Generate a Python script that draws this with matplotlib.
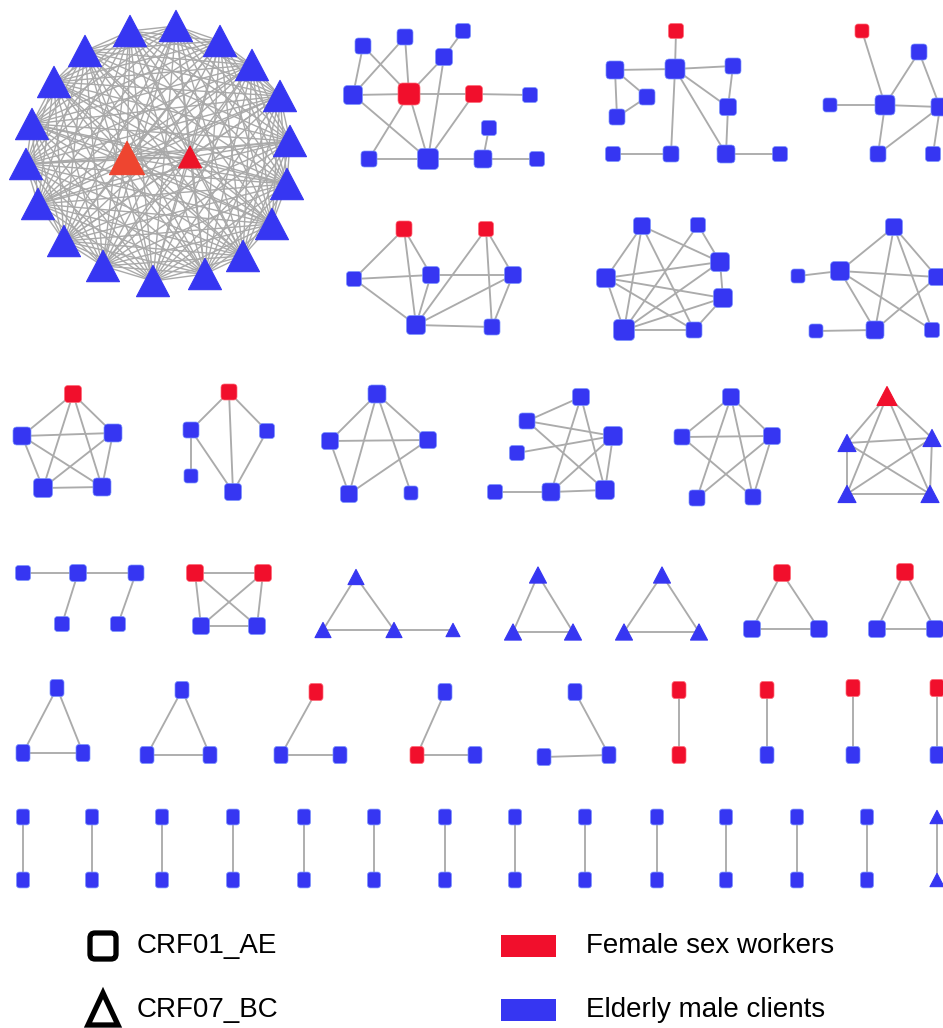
import numpy as np
import matplotlib
matplotlib.use('Agg')
import matplotlib.pyplot as plt
from matplotlib.patches import FancyBboxPatch, Polygon, Rectangle
from matplotlib.collections import LineCollection
from itertools import combinations

# ------------------------------------------------------------------
# DATA: transmission clusters
#   subtype: 'AE' = CRF01_AE (square), 'BC' = CRF07_BC (triangle)
#   roles  : F = female sex worker, M = elderly male client
#   edges  : pairs of node indices, or 'all' for a fully linked cluster
# ------------------------------------------------------------------
cluster_subtype = (['BC', 'AE', 'AE', 'AE', 'AE', 'AE', 'AE',
                    'AE', 'AE', 'AE', 'AE', 'AE', 'BC',
                    'AE', 'AE', 'BC', 'BC', 'BC', 'AE', 'AE',
                    'AE', 'AE', 'AE', 'AE', 'AE', 'AE', 'AE', 'AE', 'AE']
                   + ['AE'] * 13 + ['BC'])

cluster_roles = (['MMMMMMMMMMMMMMMMMMFF', 'MMMMMFFMMMMMM', 'FMMMMMMMMMM', 'FMMMMMM',
                  'FFMMMMM', 'MMMMMMM', 'MMMMMMM',
                  'FMMMM', 'FMMMM', 'MMMMM', 'MMMMMMM', 'MMMMM', 'FMMMM',
                  'MMMMM', 'FFMM', 'MMMM', 'MMM', 'MMM', 'FMM', 'FMM',
                  'MMM', 'MMM', 'FMM', 'MFM', 'MMM', 'FF', 'FM', 'FM', 'FM']
                 + ['MM'] * 13 + ['MM'])

cluster_edges = ([
    'all',
    [(0, 4), (0, 5), (1, 4), (1, 5), (2, 3), (3, 5), (3, 10), (4, 5), (4, 10),
     (5, 6), (5, 9), (5, 10), (6, 7), (6, 10), (9, 10), (10, 11), (8, 11), (11, 12)],
    [(0, 2), (1, 2), (2, 3), (1, 4), (1, 5), (4, 5), (2, 6), (2, 8), (2, 9),
     (3, 6), (6, 9), (7, 8), (9, 10)],
    [(0, 3), (2, 3), (3, 1), (1, 4), (3, 4), (3, 5), (5, 4), (4, 6)],
    [(0, 2), (0, 3), (0, 5), (1, 5), (1, 6), (1, 4), (2, 3), (3, 4), (2, 5),
     (3, 5), (5, 4), (5, 6), (6, 4)],
    [(0, 3), (0, 5), (0, 2), (0, 6), (1, 2), (1, 5), (3, 2), (3, 4), (3, 6),
     (3, 5), (5, 2), (5, 4), (5, 6), (2, 4), (4, 6)],
    [(1, 2), (2, 0), (2, 3), (2, 5), (2, 6), (0, 5), (0, 6), (0, 3), (4, 5), (5, 3)],
    'all',
    [(0, 1), (0, 4), (0, 2), (1, 3), (1, 4), (2, 4)],
    [(0, 1), (0, 2), (0, 3), (0, 4), (1, 2), (1, 3), (3, 2)],
    [(0, 1), (0, 5), (0, 6), (1, 2), (1, 6), (3, 2), (2, 5), (2, 6), (5, 6), (4, 5)],
    [(0, 1), (0, 2), (0, 3), (0, 4), (1, 2), (1, 4), (2, 3), (2, 4)],
    'all',
    [(0, 1), (1, 2), (1, 3), (2, 4)],
    'all',
    [(0, 1), (0, 2), (1, 2), (2, 3)],
    'all', 'all', 'all', 'all',
    'all', 'all',
    [(0, 1), (1, 2)],
    [(0, 1), (1, 2)],
    [(0, 2), (1, 2)],
    'all', 'all', 'all', 'all'] + ['all'] * 13 + ['all'])

# ------------------------------------------------------------------
# LAYOUT (pixel positions of nodes, node widths)
# ------------------------------------------------------------------
pair_x = [23, 92, 162, 233, 304, 374, 445, 515, 585, 657, 726, 797, 867, 937]

cluster_xy = [
    [(130, 31), (176, 26), (220, 41), (252, 65), (280, 96), (290, 141), (287, 184),
     (272, 224), (243, 256), (205, 274), (153, 281), (103, 266), (64, 241), (38, 204),
     (26, 164), (32, 124), (54, 82), (85, 51), (127, 158), (190, 157)],
    [(363, 46), (405, 37), (463, 31), (444, 57), (353, 95), (409, 94), (474, 94),
     (530, 95), (489, 128), (369, 159), (428, 159), (483, 159), (537, 159)],
    [(676, 31), (615, 70), (675, 69), (733, 66), (647, 97), (617, 117), (728, 107),
     (613, 154), (671, 154), (726, 154), (780, 154)],
    [(862, 31), (919, 52), (830, 105), (885, 105), (940, 107), (878, 154), (933, 154)],
    [(404, 229), (486, 229), (354, 279), (431, 275), (513, 275), (416, 325), (492, 327)],
    [(642, 226), (698, 225), (720, 262), (606, 278), (723, 298), (624, 330), (694, 330)],
    [(894, 227), (798, 276), (840, 271), (937, 277), (816, 331), (875, 330), (932, 330)],
    [(73, 394), (22, 436), (113, 433), (43, 488), (102, 487)],
    [(229, 392), (191, 430), (267, 431), (191, 476), (233, 492)],
    [(377, 394), (330, 441), (428, 440), (349, 494), (411, 493)],
    [(581, 397), (527, 421), (613, 436), (517, 453), (495, 492), (551, 492), (605, 490)],
    [(731, 397), (682, 437), (772, 436), (697, 498), (753, 497)],
    [(887, 396), (847, 443), (932, 438), (847, 494), (930, 494)],
    [(23, 573), (78, 573), (136, 573), (62, 624), (118, 624)],
    [(195, 573), (263, 573), (201, 626), (257, 626)],
    [(356, 577), (323, 630), (394, 630), (453, 630)],
    [(538, 575), (513, 632), (573, 632)],
    [(662, 575), (624, 632), (699, 632)],
    [(782, 573), (752, 629), (819, 629)],
    [(905, 572), (877, 629), (935, 629)],
    [(57, 688), (23, 753), (83, 753)],
    [(182, 690), (147, 755), (210, 755)],
    [(316, 692), (281, 755), (340, 755)],
    [(445, 692), (417, 755), (475, 755)],
    [(575, 692), (544, 757), (609, 755)],
    [(679, 690), (679, 755)],
    [(767, 690), (767, 755)],
    [(853, 688), (853, 755)],
    [(937, 688), (937, 755)],
] + [[(x, 817), (x, 880)] for x in pair_x]

cluster_size = ([
    [33] * 18 + [35, 23],
    [16, 16, 15, 17, 19, 22, 17, 15, 15, 16, 21, 18, 15],
    [15, 18, 20, 16, 16, 16, 17, 15, 16, 18, 15],
    [14, 16, 14, 20, 18, 16, 15],
    [16, 15, 15, 17, 17, 19, 16],
    [17, 15, 19, 19, 19, 21, 16],
    [17, 14, 19, 17, 14, 18, 15],
    [17, 18, 18, 19, 18],
    [16, 16, 15, 14, 17],
    [18, 17, 17, 17, 14],
    [17, 16, 19, 15, 15, 18, 19],
    [17, 16, 17, 16, 16],
    [20, 18, 18, 18, 18],
    [15, 17, 16, 15, 15],
    17, [16, 16, 16, 14], 17, 17, 17, 17,
    14, 14, 14, 14, 14, 14, 14, 14, 14] + [13] * 13 + [14])

cluster_aspect = [1.0] * 20 + [1.22] * 9 + [1.22] * 13 + [1.0]

BLUE = '#3636F2'
RED = '#F10F2C'
EDGE = '#ABABAB'
color_override = {(0, 18): '#EE4530', (0, 19): '#EC1428'}

fig = plt.figure(figsize=(9.43, 10.28), dpi=100)
ax = fig.add_axes([0, 0, 1, 1])
ax.set_xlim(0, 943)
ax.set_ylim(1028, 0)
ax.axis('off')


def draw_square(x, y, w, h, color, z=3):
    ax.add_patch(FancyBboxPatch((x - w / 2, y - h / 2), w, h,
                                boxstyle=f"round,pad=0,rounding_size={0.22 * w}",
                                facecolor=color, edgecolor='#7C95FF' if color == BLUE else '#FF6A78',
                                linewidth=0.5, zorder=z))


def draw_triangle(x, y, w, h, color, z=3):
    pts = [(x, y - h / 2), (x - w / 2, y + h / 2), (x + w / 2, y + h / 2)]
    ax.add_patch(Polygon(pts, closed=True, facecolor=color, edgecolor=color,
                         linewidth=0.8, joinstyle='round', zorder=z))


for k in range(len(cluster_xy)):
    xy = np.array(cluster_xy[k], dtype=float)
    edges = cluster_edges[k]
    if edges == 'all':
        edges = list(combinations(range(len(xy)), 2))
    segs = [[xy[i], xy[j]] for i, j in edges]
    lw = 1.0 if k == 0 else 1.35
    col = '#A9A9A9' if k == 0 else EDGE
    ax.add_collection(LineCollection(segs, colors=col, linewidths=lw, zorder=1))
    sizes = cluster_size[k]
    if np.isscalar(sizes):
        sizes = [sizes] * len(xy)
    for i, (x, y) in enumerate(xy):
        color = RED if cluster_roles[k][i] == 'F' else BLUE
        color = color_override.get((k, i), color)
        w = sizes[i]
        if cluster_subtype[k] == 'AE':
            draw_square(x, y, w, w * cluster_aspect[k], color)
        else:
            draw_triangle(x, y, w, w * 0.95, color)

# ------------------------------------------------------------------
# Legend
# ------------------------------------------------------------------
legend_subtypes = ['CRF01_AE', 'CRF07_BC']
legend_roles = ['Female sex workers', 'Elderly male clients']
row_y = [946, 1010]
font = dict(fontsize=20, family=['Liberation Sans', 'DejaVu Sans'], va='center', ha='left')

ax.add_patch(FancyBboxPatch((90, row_y[0] - 13), 26, 26,
                            boxstyle="round,pad=0,rounding_size=5",
                            facecolor='white', edgecolor='black', linewidth=3.8, zorder=3))
ax.add_patch(Polygon([(103, row_y[1] - 17), (88, row_y[1] + 15), (118, row_y[1] + 15)],
                     closed=True, facecolor='white', edgecolor='black', linewidth=3.8,
                     joinstyle='miter', zorder=3))
for lab, y in zip(legend_subtypes, row_y):
    ax.text(137, y, lab, **font)

for lab, y, c in zip(legend_roles, row_y, [RED, BLUE]):
    ax.add_patch(Rectangle((501, y - 11), 55, 22, facecolor=c, edgecolor='none', zorder=3))
    ax.text(586, y, lab, **font)

fig.savefig('out.png', dpi=100)
